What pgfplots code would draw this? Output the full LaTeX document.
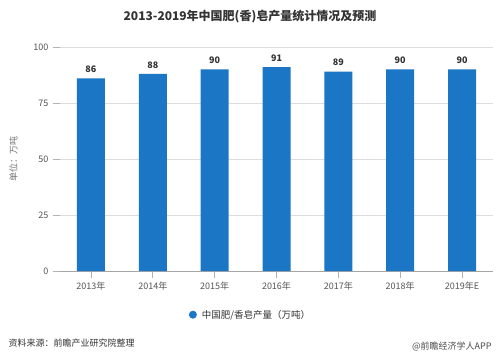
\documentclass[border=0pt]{standalone}
\usepackage{pgfplots}
\pgfplotsset{compat=1.18}
\usepackage{fontspec}
\setmainfont{Noto Sans CJK SC}
\definecolor{barblue}{HTML}{1B76C6}
\definecolor{tickgray}{HTML}{555555}
\definecolor{gridgray}{HTML}{DDDDDD}
\begin{document}
\begin{tikzpicture}
\useasboundingbox[fill=white] (0pt,0pt) rectangle (500pt,362pt);
\begin{axis}[
  at={(60pt,91pt)}, anchor=south west,
  scale only axis, width=433pt, height=224pt,
  ybar, bar width=28pt,
  xmin=-0.5, xmax=6.5, ymin=0, ymax=100,
  xtick={0,1,2,3,4,5,6},
  xticklabels={2013年,2014年,2015年,2016年,2017年,2018年,2019年E},
  ytick={0,25,50,75,100},
  ymajorgrids, grid style={gridgray, line width=0.6pt},
  axis line style={draw=none},
  axis x line*=bottom,
  x axis line style={draw=gray!70, line width=0.6pt},
  axis y line*=left,
  y axis line style={draw=none},
  tick style={gray!60, line width=0.6pt},
  major tick length=7pt,
  xtick pos=bottom, ytick pos=left,
  tick align=outside,
  ticklabel style={font=\fontsize{9}{10}\selectfont, text=tickgray},
  yticklabel style={xshift=-1pt},
  /pgf/number format/assume math mode=true,
  ylabel={单位：万吨}, ylabel style={font=\fontsize{9}{10}\selectfont, text=tickgray!80, at={(axis description cs:-0.09,0.5)}},
  nodes near coords,
  every node near coord/.append style={font=\bfseries\fontsize{9}{10}\selectfont, text=black!80, yshift=2pt},
  legend style={at={(0.44,-0.195)}, anchor=center, draw=none, font=\fontsize{9.5}{11}\selectfont, text=black!80},
  legend image code/.code={\fill[barblue] (0.1cm,0cm) circle (4pt);},
]
\addplot[fill=barblue, draw=none] coordinates {(0,86) (1,88) (2,90) (3,91) (4,89) (5,90) (6,90)};
\addlegendentry{\hspace{3pt}中国肥/香皂产量（万吨）}
\end{axis}
\node[font=\bfseries\fontsize{12}{14}\selectfont, text=black!80] at (250pt,345pt) {2013-2019年中国肥(香)皂产量统计情况及预测};
\node[font=\fontsize{9}{10}\selectfont, text=black!80, anchor=west] at (5pt,19pt) {资料来源：前瞻产业研究院整理};
\node[font=\fontsize{9}{10}\selectfont, text=black!70, anchor=east] at (495pt,16pt) {@前瞻经济学人APP};
\end{tikzpicture}
\end{document}
